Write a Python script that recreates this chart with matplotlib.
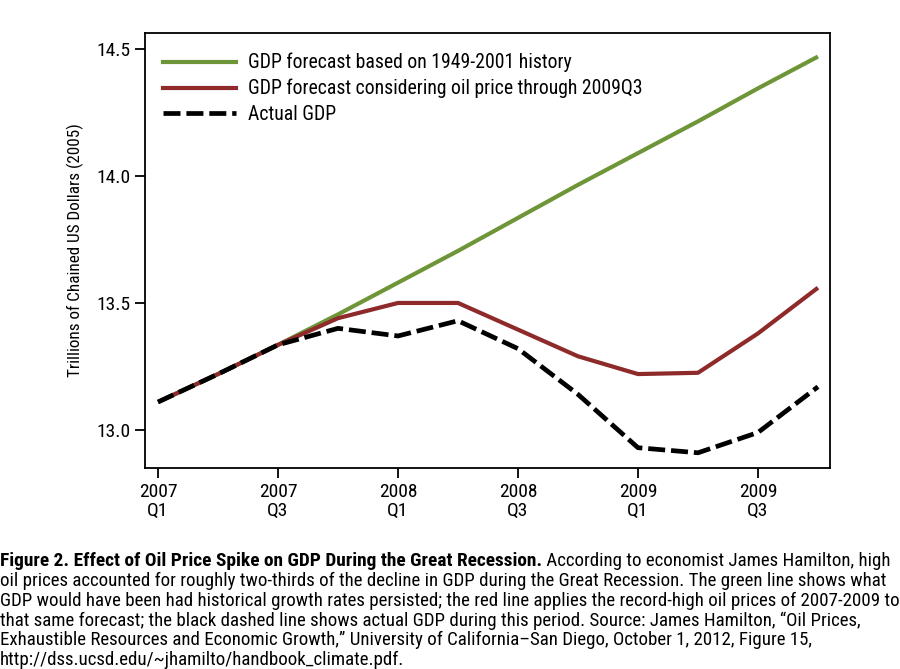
import matplotlib
matplotlib.use("Agg")
import matplotlib.pyplot as plt
from matplotlib import font_manager as fm
from matplotlib.lines import Line2D

quarters = ["2007Q1", "2007Q2", "2007Q3", "2007Q4", "2008Q1", "2008Q2",
            "2008Q3", "2008Q4", "2009Q1", "2009Q2", "2009Q3", "2009Q4"]
green_forecast = [13.11, 13.22, 13.335, 13.455, 13.58, 13.705,
                  13.835, 13.965, 14.09, 14.215, 14.345, 14.47]
red_forecast = [13.11, 13.22, 13.335, 13.44, 13.50, 13.50,
                13.395, 13.29, 13.22, 13.225, 13.38, 13.56]
actual_gdp = [13.11, 13.22, 13.335, 13.40, 13.37, 13.43,
              13.32, 13.14, 12.93, 12.91, 12.99, 13.17]
xtick_labels = ["2007\nQ1", "2007\nQ3", "2008\nQ1", "2008\nQ3", "2009\nQ1", "2009\nQ3"]
ytick_values = [13.0, 13.5, 14.0, 14.5]
legend_labels = ["GDP forecast based on 1949-2001 history",
                 "GDP forecast considering oil price through 2009Q3",
                 "Actual GDP"]
ylabel = "Trillions of Chained US Dollars (2005)"
caption_bold = "Figure 2. Effect of Oil Price Spike on GDP During the Great Recession."
caption_lines = [
    " According to economist James Hamilton, high",
    "oil prices accounted for roughly two-thirds of the decline in GDP during the Great Recession. The green line shows what",
    "GDP would have been had historical growth rates persisted; the red line applies the record-high oil prices of 2007-2009 to",
    "that same forecast; the black dashed line shows actual GDP during this period. Source: James Hamilton, \u201cOil Prices,",
    "Exhaustible Resources and Economic Growth,\u201d University of California\u2013San Diego, October 1, 2012, Figure 15,",
    "http://dss.ucsd.edu/~jhamilto/handbook_climate.pdf.",
]

# choose a condensed sans family if one is installed
entries = fm.fontManager.ttflist
names = {f.name for f in entries}
family = "DejaVu Sans"
for cand in ["Roboto Condensed", "Liberation Sans Narrow", "Open Sans Condensed",
             "Noto Sans Condensed"]:
    if cand in names:
        family = cand
        break
plt.rcParams['font.family'] = [family, "DejaVu Sans"]

fig = plt.figure(figsize=(9, 6.69), dpi=100)
ax = fig.add_axes([0.1611, 0.3004, 0.9222 - 0.1611, 0.9507 - 0.3004])

green_c, red_c = "#6e9638", "#8e2a2a"
dash = (3.6, 1.25)
x = list(range(len(quarters)))
ax.plot(x, green_forecast, color=green_c, lw=3.0, solid_capstyle="butt", zorder=2)
ax.plot(x, red_forecast, color=red_c, lw=3.0, solid_capstyle="butt", zorder=3)
ax.plot(x, actual_gdp, color="black", lw=3.4, dashes=dash, zorder=4)

ax.set_xlim(-0.217, 11.2)
ax.set_ylim(12.85, 14.563)
ax.set_xticks([0, 2, 4, 6, 8, 10])
ax.set_xticklabels(xtick_labels, fontsize=14, linespacing=1.1)
ax.set_yticks(ytick_values)
ax.set_yticklabels([f"{v:.1f}" for v in ytick_values], fontsize=14)
ax.tick_params(direction="out", length=7.5, width=1.3, color="black", pad=3)
for s in ax.spines.values():
    s.set_linewidth(1.3)
ax.set_ylabel(ylabel, fontsize=12.3, labelpad=9)

handles = [Line2D([], [], color=green_c, lw=3.0),
           Line2D([], [], color=red_c, lw=3.0),
           Line2D([], [], color="black", lw=3.4, dashes=dash)]
leg = ax.legend(handles, legend_labels, loc="upper left", frameon=False,
                fontsize=14.2, handlelength=3.7, handletextpad=0.62,
                labelspacing=0.33, borderaxespad=0.5, bbox_to_anchor=(0.0, 0.995))

# caption, fitted to the reference width
fig.canvas.draw()
renderer = fig.canvas.get_renderer()
fs = 13.0
probe = fig.text(0, 0, caption_lines[2], fontsize=fs)
w = probe.get_window_extent(renderer).width
probe.remove()
fs = fs * 893.0 / w
probe = fig.text(0, 0, caption_lines[0], fontsize=fs)
w1 = probe.get_window_extent(renderer).width
probe.remove()
probe = fig.text(0, 0, caption_bold, fontsize=fs, fontweight="bold")
wb = probe.get_window_extent(renderer).width
probe.remove()
fsb = fs * min(1.08, (893.0 - w1) / wb)
y0 = 1 - 561 / 669
dy = 19.8 / 669
t = fig.text(0.0, y0, caption_bold, fontsize=fsb, fontweight="bold", va="center", ha="left")
bb = t.get_window_extent(renderer)
fig.text(bb.x1 / fig.bbox.width, y0, caption_lines[0], fontsize=fs, va="center", ha="left")
for i, line in enumerate(caption_lines[1:], start=1):
    fig.text(0.0, y0 - i * dy, line, fontsize=fs, va="center", ha="left")

fig.savefig("out.png", dpi=100)
